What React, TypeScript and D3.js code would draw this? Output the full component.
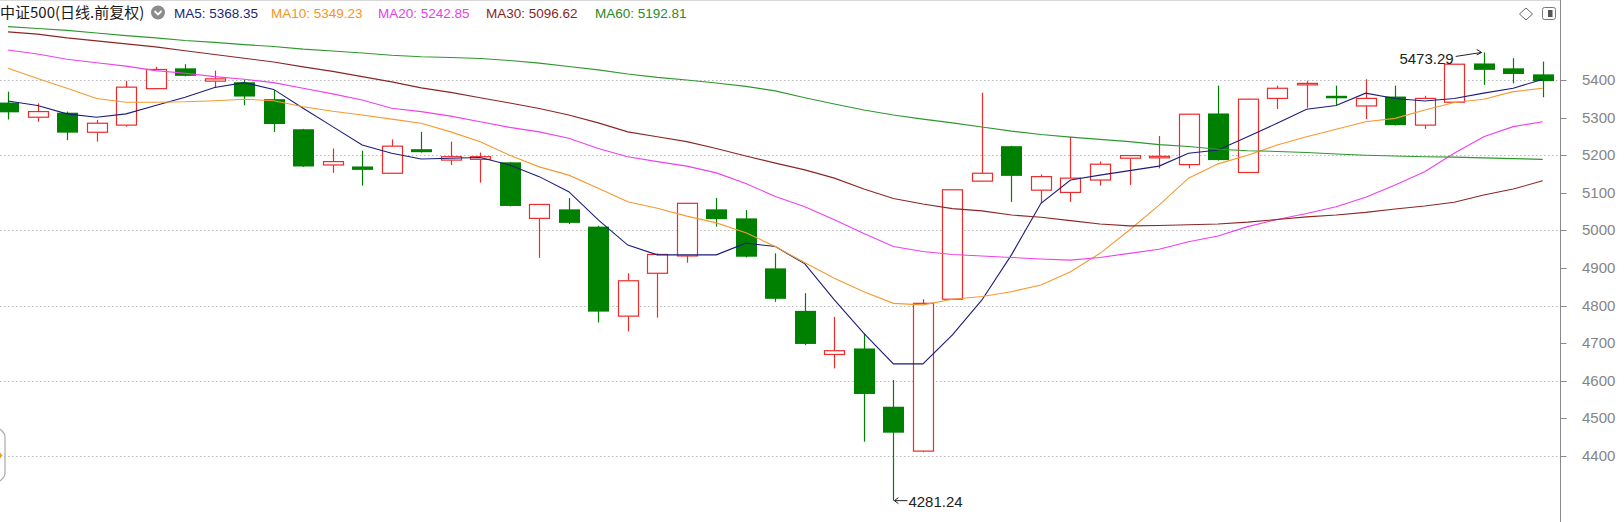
import React from 'react';
import * as d3 from 'd3';

// ---- data ----
const opens = [5340, 5301, 5313, 5261, 5280, 5377, 5431, 5397, 5394, 5349, 5269, 5174, 5170, 5152, 5216, 5187, 5189, 5181, 5032, 5056, 5010, 4772, 4886, 4932, 5056, 5032, 4899, 4786, 4670, 4686, 4531, 4413, 4817, 5131, 5224, 5107, 5101, 5134, 5192, 5194, 5175, 5311, 5154, 5351, 5387, 5358, 5331, 5356, 5280, 5341, 5444, 5431, 5415];
const highs = [5369, 5338, 5316, 5294, 5398, 5435, 5442, 5425, 5400, 5373, 5270, 5218, 5212, 5242, 5262, 5236, 5207, 5182, 5069, 5086, 5012, 4886, 4939, 5072, 5086, 5054, 4939, 4833, 4770, 4726, 4602, 4817, 5108, 5366, 5225, 5149, 5249, 5183, 5200, 5251, 5310, 5385, 5350, 5385, 5398, 5385, 5402, 5385, 5358, 5442, 5473.29, 5458, 5449];
const lows = [5295, 5289, 5240, 5236, 5276, 5376, 5410, 5379, 5333, 5262, 5169, 5153, 5119, 5151, 5207, 5174, 5127, 5064, 4927, 5017, 4755, 4731, 4768, 4914, 5010, 4928, 4810, 4695, 4633, 4438, 4281.24, 4410, 4816, 5130, 5076, 5072, 5076, 5119, 5121, 5165, 5165, 5186, 5153, 5323, 5326, 5332, 5296, 5279, 5270, 5340, 5387, 5391, 5354];
const closes = [5314, 5316, 5260, 5285, 5381, 5428, 5411, 5403, 5356, 5283, 5170, 5183, 5161, 5224, 5208, 5196, 5196, 5065, 5069, 5020, 4784, 4866, 4936, 5072, 5030, 4930, 4818, 4698, 4680, 4565, 4462, 4806, 5108, 5152, 5145, 5143, 5139, 5176, 5199, 5197, 5309, 5187, 5349, 5378, 5391, 5353, 5351, 5280, 5351, 5442, 5427, 5416, 5397];

const ma5 = [5344, 5332, 5310, 5301, 5310, 5332, 5354, 5380, 5393, 5375, 5325, 5276, 5227, 5205, 5190, 5192, 5194, 5174, 5143, 5103, 5028, 4961, 4935, 4935, 4935, 4966, 4957, 4911, 4815, 4726, 4645, 4645, 4722, 4815, 4935, 5072, 5134, 5147, 5159, 5171, 5205, 5214, 5249, 5285, 5322, 5332, 5365, 5351, 5344, 5351, 5365, 5378, 5402];
const ma10 = [5431, 5404, 5378, 5351, 5341, 5341, 5342, 5345, 5349, 5345, 5329, 5317, 5307, 5296, 5285, 5262, 5236, 5200, 5169, 5147, 5112, 5076, 5059, 5038, 5020, 4994, 4957, 4914, 4873, 4837, 4806, 4802, 4817, 4824, 4837, 4855, 4890, 4939, 5001, 5067, 5139, 5177, 5200, 5227, 5249, 5269, 5289, 5298, 5320, 5340, 5349, 5369, 5378];
const ma20 = [5480, 5469, 5455, 5446, 5437, 5425, 5418, 5409, 5402, 5393, 5378, 5363, 5347, 5325, 5316, 5304, 5289, 5274, 5262, 5245, 5218, 5196, 5183, 5171, 5153, 5125, 5090, 5063, 5028, 4992, 4957, 4944, 4936, 4932, 4928, 4924, 4921, 4928, 4939, 4950, 4970, 4985, 5010, 5029, 5045, 5063, 5088, 5121, 5156, 5205, 5249, 5276, 5289];
const ma30 = [5528, 5522, 5512, 5504, 5496, 5488, 5478, 5468, 5458, 5448, 5435, 5423, 5409, 5395, 5379, 5367, 5353, 5339, 5324, 5307, 5286, 5262, 5249, 5236, 5218, 5198, 5179, 5161, 5139, 5110, 5085, 5070, 5058, 5052, 5041, 5035, 5026, 5017, 5012, 5013, 5015, 5017, 5022, 5029, 5036, 5041, 5048, 5057, 5065, 5075, 5094, 5110, 5132];
const ma60 = [5542, 5537, 5532, 5525, 5518, 5512, 5505, 5500, 5494, 5489, 5482, 5477, 5472, 5466, 5462, 5460, 5457, 5452, 5445, 5436, 5427, 5416, 5407, 5400, 5392, 5383, 5371, 5353, 5336, 5320, 5307, 5296, 5286, 5275, 5264, 5255, 5248, 5242, 5236, 5228, 5223, 5216, 5212, 5210, 5207, 5203, 5200, 5198, 5196, 5195, 5193, 5191, 5189];

const maNames = ['MA5', 'MA10', 'MA20', 'MA30', 'MA60'];
const maLegendValues = ['5368.35', '5349.23', '5242.85', '5096.62', '5192.81'];
const yTickValues = [4400, 4500, 4600, 4700, 4800, 4900, 5000, 5100, 5200, 5300, 5400];
const gridValues = [4400, 4600, 4800, 5000, 5200, 5400];
const titleText = '中证500(日线.前复权)';

// ---- styles ----
const W = 1624;
const H = 522;
const RED = '#ec2b2b';
const GREEN = '#008000';
const maColors = ['#1c1c7a', '#f59a32', '#ee40ee', '#8b2626', '#2f972f'];
const legendColors = ['#1a1f78', '#f7941d', '#e83ee8', '#8b1f1f', '#2a8a2a'];
const legendX = [174, 271, 378, 486, 595];

export default function App() {
  const n = closes.length;
  const x = d3.scalePoint<number>().domain(d3.range(n)).range([8, 1542.7]);
  const y = d3.scaleLinear().domain([4400, 5400]).range([456, 80]);
  const bodyW = 20;
  const axisX = 1560.5;

  const line = d3
    .line<number>()
    .x((_, i) => x(i) as number)
    .y((d) => y(d));
  const maSeries = [ma5, ma10, ma20, ma30, ma60];

  const lowIdx = lows.indexOf(d3.min(lows) as number);
  const highIdx = highs.indexOf(d3.max(highs) as number);
  const lx = x(lowIdx) as number;
  const ly = y(lows[lowIdx]);
  const hx = x(highIdx) as number;
  const hy = y(highs[highIdx]);

  return (
    <svg
      width={W}
      height={H}
      style={{ position: 'absolute', left: 0, top: 0, display: 'block', background: '#fff' }}
      fontFamily="'Liberation Sans', Arial, sans-serif"
    >
      <rect x={0} y={0} width={W} height={H} fill="#fff" />
      <line x1={0} x2={axisX} y1={0.5} y2={0.5} stroke="#d8d8d8" />

      {/* grid */}
      {gridValues.map((v) => (
        <line
          key={'g' + v}
          x1={0}
          x2={axisX}
          y1={Math.round(y(v)) + 0.5}
          y2={Math.round(y(v)) + 0.5}
          stroke="#b8b8b8"
          strokeDasharray="1.5,2.5"
        />
      ))}

      {/* candles */}
      {closes.map((c, i) => {
        const o = opens[i];
        const up = c >= o;
        const cx = Math.round(x(i) as number) + 0.5;
        const top = y(Math.max(o, c));
        const bot = y(Math.min(o, c));
        const hgt = Math.max(bot - top, 1.5);
        if (up) {
          return (
            <g key={'c' + i}>
              <line x1={cx} x2={cx} y1={y(highs[i])} y2={top} stroke={RED} strokeWidth={1.2} />
              <line x1={cx} x2={cx} y1={top + hgt} y2={y(lows[i])} stroke={RED} strokeWidth={1.2} />
              <rect
                x={cx - bodyW / 2}
                y={top}
                width={bodyW}
                height={hgt}
                fill="#fff"
                stroke={RED}
                strokeWidth={1.2}
              />
            </g>
          );
        }
        return (
          <g key={'c' + i}>
            <line x1={cx} x2={cx} y1={y(highs[i])} y2={y(lows[i])} stroke={GREEN} strokeWidth={1.2} />
            <rect x={cx - bodyW / 2 - 0.5} y={top} width={bodyW + 1} height={Math.max(hgt, 2.5)} fill={GREEN} />
          </g>
        );
      })}

      {/* moving averages */}
      {maSeries.map((s, k) => (
        <path key={'ma' + k} d={line(s) as string} fill="none" stroke={maColors[k]} strokeWidth={1.1} />
      ))}

      {/* extreme annotations */}
      <g stroke="#222" strokeWidth={1} fill="none">
        <line x1={lx + 1} x2={lx + 14} y1={ly} y2={ly} />
        <path d={`M${lx + 5},${ly - 3} L${lx + 1},${ly} L${lx + 5},${ly + 3}`} />
        <line x1={hx - 28} x2={hx - 2} y1={hy + 4} y2={hy} />
        <path d={`M${hx - 7},${hy - 3} L${hx - 2},${hy} L${hx - 7},${hy + 2.5}`} />
      </g>
      <text x={lx + 15} y={ly + 6} fontSize={15} fill="#222">
        {lows[lowIdx].toFixed(2)}
      </text>
      <text x={hx - 30} y={hy + 12} fontSize={15} fill="#222" textAnchor="end">
        {highs[highIdx].toFixed(2)}
      </text>

      {/* right axis */}
      <line x1={axisX} x2={axisX} y1={0} y2={H} stroke="#8a8a8a" />
      {yTickValues.map((v) => (
        <g key={'t' + v}>
          <line
            x1={axisX}
            x2={axisX + 6}
            y1={Math.round(y(v)) + 0.5}
            y2={Math.round(y(v)) + 0.5}
            stroke="#8a8a8a"
          />
          <text x={1582} y={y(v) + 5} fontSize={15} fill="#858585">
            {v}
          </text>
        </g>
      ))}

      {/* title & legend */}
      <text x={0} y={18} fontSize={15} fill="#1a1a1a" fontFamily="'Noto Sans CJK SC', 'Liberation Sans', sans-serif">
        {titleText}
      </text>
      <circle cx={158} cy={12.5} r={7} fill="#8c8c8c" />
      <path d="M154.5,11 L158,14.5 L161.5,11" stroke="#fff" strokeWidth={1.8} fill="none" />
      {maNames.map((name, k) => (
        <text key={'lg' + k} x={legendX[k]} y={17.5} fontSize={13.5} fill={legendColors[k]}>
          {`${name}: ${maLegendValues[k]}`}
        </text>
      ))}

      {/* top-right icons */}
      <path d="M1526,8 L1532.5,14 L1526,20 L1519.5,14 Z" fill="none" stroke="#666" strokeWidth={1} />
      <rect x={1542.5} y={7.5} width={13} height={12} rx={2} fill="#fff" stroke="#777" />
      <rect x={1548} y={10} width={4.5} height={7} fill="#555" />

      {/* left collapsed handle */}
      <path d="M0,429 L3,432 Q5,434 5,437 L5,473 Q5,476 3,478 L0,481" fill="none" stroke="#aaa" strokeWidth={1.2} />
      <path d="M0,452.5 L2.5,455.5 L0,458.5 Z" fill="#f0a020" />
    </svg>
  );
}
